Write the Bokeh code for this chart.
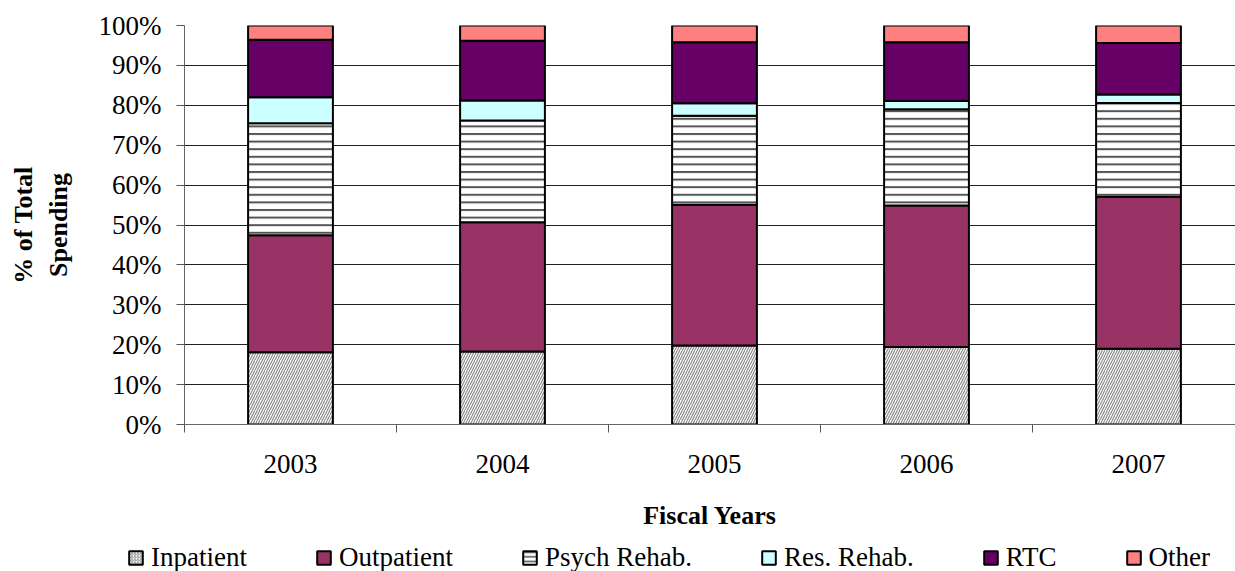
from bokeh.plotting import figure
from bokeh.models import Range1d, FixedTicker, Legend, ColumnDataSource
from bokeh.embed import file_html
from bokeh.resources import INLINE

# ---- data (percent of total spending) ----
years = ["2003", "2004", "2005", "2006", "2007"]
inpatient = [18.1, 18.3, 19.8, 19.4, 19.0]
outpatient = [29.3, 32.4, 35.3, 35.5, 38.1]
psych_rehab = [28.1, 25.5, 22.3, 24.1, 23.5]
res_rehab = [6.5, 5.0, 3.1, 2.1, 2.1]
rtc = [14.4, 15.0, 15.3, 14.7, 12.9]
other = [3.6, 3.8, 4.2, 4.2, 4.4]
series_names = ["Inpatient", "Outpatient", "Psych Rehab.", "Res. Rehab.", "RTC", "Other"]
y_ticks = [0, 10, 20, 30, 40, 50, 60, 70, 80, 90, 100]
y_tick_labels = ["0%", "10%", "20%", "30%", "40%", "50%", "60%", "70%", "80%", "90%", "100%"]

FONT = "Liberation Serif"

xpos = list(range(len(years)))
src = ColumnDataSource(dict(
    x=xpos, Inpatient=inpatient, Outpatient=outpatient, Psych=psych_rehab,
    Res=res_rehab, RTC=rtc, Other=other))
keys = ["Inpatient", "Outpatient", "Psych", "Res", "RTC", "Other"]

fills = ["white", "#993366", "white", "#CCFFFF", "#660066", "#FF8080"]
hatches = ["/", " ", "-", " ", " ", " "]
hcolors = ["#8a8a8a", "#000000", "#555555", "#000000", "#000000", "#000000"]
hscales = [5, 12, 7.6, 12, 12, 12]
hweights = [1.2, 1, 2, 1, 1, 1]

W = 1235
H_MAIN, H_LEG = 535, 36
LEFT, TOP = 184, 25
FRAME_H = 399
BOTTOM = H_MAIN - TOP - FRAME_H
frame_w = W - LEFT
cat_px = 212.0

p = figure(width=W, height=H_MAIN, output_backend="svg", toolbar_location=None,
           x_range=Range1d(-0.5, -0.5 + frame_w / cat_px), y_range=Range1d(0, 100),
           min_border_left=LEFT, min_border_right=0, min_border_top=TOP,
           min_border_bottom=BOTTOM)
p.outline_line_color = None
p.background_fill_color = "white"
p.border_fill_color = "white"

renderers = p.vbar_stack(
    keys, x="x", width=0.4, source=src,
    fill_color=fills, hatch_pattern=hatches, hatch_color=hcolors,
    hatch_scale=hscales, hatch_weight=hweights,
    line_color="black", line_width=2)

# grid
p.xgrid.visible = False
p.ygrid.ticker = FixedTicker(ticks=y_ticks)
p.ygrid.grid_line_color = "#222222"
p.ygrid.grid_line_width = 1

# y axis
ya = p.yaxis[0]
ya.ticker = FixedTicker(ticks=y_ticks)
ya.major_label_overrides = {t: l for t, l in zip(y_ticks, y_tick_labels)}
ya.major_label_text_font = FONT
ya.major_label_text_font_size = "27px"
ya.major_label_text_color = "black"
ya.major_tick_in = 0
ya.major_tick_out = 8
ya.minor_tick_line_color = None
ya.major_tick_line_color = "#555555"
ya.axis_line_color = "#666666"
ya.major_label_standoff = 15
ya.axis_label = "% of Total\nSpending"
ya.axis_label_text_font = FONT
ya.axis_label_text_font_style = "bold"
ya.axis_label_text_font_size = "26px"
ya.axis_label_text_color = "black"
ya.axis_label_standoff = 23

# x axis
xa = p.xaxis[0]
xa.ticker = FixedTicker(ticks=xpos, minor_ticks=[i - 0.5 for i in range(len(years) + 1)])
xa.major_label_overrides = {i: y for i, y in zip(xpos, years)}
xa.major_label_text_font = FONT
xa.major_label_text_font_size = "27px"
xa.major_label_text_color = "black"
xa.major_tick_line_color = None
xa.major_tick_in = 0
xa.major_tick_out = 8
xa.minor_tick_line_color = "#555555"
xa.minor_tick_in = 0
xa.minor_tick_out = 8
xa.axis_line_color = "#666666"
xa.major_label_standoff = 22
xa.axis_label = "Fiscal Years"
xa.axis_label_text_font = FONT
xa.axis_label_text_font_style = "bold"
xa.axis_label_text_font_size = "26px"
xa.axis_label_text_color = "black"
xa.axis_label_standoff = 25

# ---- legend strip (separate figure, same glyph styles) ----
lf = figure(width=W, height=H_LEG, output_backend="svg", toolbar_location=None,
            x_range=Range1d(0, 1), y_range=Range1d(0, 1),
            x_axis_location=None, y_axis_location=None,
            min_border_left=0, min_border_right=0, min_border_top=0, min_border_bottom=0)
lf.outline_line_color = None
lf.grid.visible = False
lf.background_fill_color = "white"
lf.border_fill_color = "white"
leg_src = ColumnDataSource(dict(x=[0.5], top=[float("nan")]))
leg_renderers = []
for i, name in enumerate(series_names):
    r = lf.vbar(x="x", top="top", bottom=0.4, width=0.1, source=leg_src,
                fill_color=fills[i], hatch_pattern=hatches[i], hatch_color=hcolors[i],
                hatch_scale=hscales[i] * 0.6, hatch_weight=hweights[i] * 0.8,
                line_color="black", line_width=2)
    leg_renderers.append(r)

lg = Legend(items=[(n, [r]) for n, r in zip(series_names, leg_renderers)],
            orientation="horizontal", location=(127, -2),
            glyph_width=17, glyph_height=17, label_standoff=7, spacing=68,
            padding=0, margin=0, border_line_color=None,
            background_fill_alpha=0,
            label_text_font=FONT, label_text_font_size="27px",
            label_text_color="black", label_height=20)
lf.add_layout(lg, "center")

open("out.html", "w").write(file_html([p, lf], INLINE))
